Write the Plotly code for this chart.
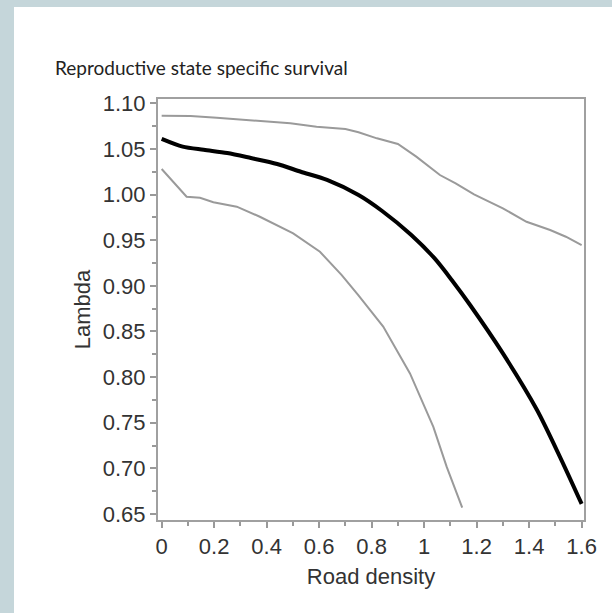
import plotly.graph_objects as go

# Data
road_density_mean = [0.0, 0.08, 0.16, 0.25, 0.34, 0.44, 0.53, 0.63, 0.75, 0.84, 0.95, 1.04, 1.11, 1.175, 1.3, 1.43, 1.52, 1.6]
lambda_mean = [1.061, 1.0525, 1.049, 1.0455, 1.040, 1.0335, 1.025, 1.016, 0.9995, 0.982, 0.956, 0.930, 0.9045, 0.879, 0.826, 0.764, 0.711, 0.661]

road_density_upper = [0.0, 0.11, 0.21, 0.34, 0.49, 0.59, 0.70, 0.75, 0.82, 0.90, 0.97, 1.06, 1.12, 1.19, 1.25, 1.30, 1.39, 1.48, 1.54, 1.6]
lambda_upper = [1.0864, 1.086, 1.0842, 1.0817, 1.078, 1.0744, 1.0718, 1.0682, 1.0616, 1.0554, 1.0415, 1.0214, 1.0123, 1.0002, 0.9915, 0.9849, 0.9702, 0.9611, 0.9538, 0.9447]

road_density_lower = [0.0, 0.095, 0.146, 0.197, 0.286, 0.374, 0.501, 0.603, 0.686, 0.749, 0.844, 0.946, 1.035, 1.086, 1.145]
lambda_lower = [1.028, 0.9976, 0.9965, 0.9915, 0.9867, 0.9757, 0.9575, 0.9373, 0.9118, 0.8899, 0.8553, 0.804, 0.7455, 0.7016, 0.657]

x_tick_vals = [0, 0.2, 0.4, 0.6, 0.8, 1, 1.2, 1.4, 1.6]
x_tick_text = ["0", "0.2", "0.4", "0.6", "0.8", "1", "1.2", "1.4", "1.6"]
y_tick_vals = [0.65, 0.70, 0.75, 0.80, 0.85, 0.90, 0.95, 1.00, 1.05, 1.10]
y_tick_text = ["0.65", "0.70", "0.75", "0.80", "0.85", "0.90", "0.95", "1.00", "1.05", "1.10"]
ref_lambda = 1.0
ref_density = 0.75

title_text = "Reproductive state specific survival"
x_title = "Road density"
y_title = "Lambda"

W, H = 612, 613
L, R, T, B = 158, 28, 99, 93
pw, ph = W - L - R, H - T - B

def px2paper_x(px):
    return (px - L) / pw

def py2paper_y(py):
    return (H - B - py) / ph

fig = go.Figure()

fig.add_trace(go.Scatter(x=road_density_upper, y=lambda_upper, mode="lines",
                         line=dict(color="#9a9a9a", width=2), showlegend=False))
fig.add_trace(go.Scatter(x=road_density_lower, y=lambda_lower, mode="lines",
                         line=dict(color="#9a9a9a", width=2), showlegend=False))
fig.add_trace(go.Scatter(x=road_density_mean, y=lambda_mean, mode="lines",
                         line=dict(color="#000000", width=4, shape="spline", smoothing=0.8),
                         showlegend=False))

fig.add_hline(y=ref_lambda, line=dict(color="#c0c0c0", width=1, dash="dash"), layer="below")
fig.add_vline(x=ref_density, line=dict(color="#c0c0c0", width=1, dash="dash"), layer="below")

# white panel over blue-grey frame
fig.add_shape(type="rect", xref="paper", yref="paper",
              x0=px2paper_x(14), x1=px2paper_x(620), y0=py2paper_y(620), y1=py2paper_y(7),
              fillcolor="white", line=dict(width=0), layer="below")

fig.add_annotation(text=title_text, xref="paper", yref="paper",
                   x=px2paper_x(53), y=py2paper_y(68), xanchor="left", yanchor="middle",
                   showarrow=False, font=dict(family="Lato", size=19, color="#222222"))

axis_font = dict(family="Liberation Sans, Arial", size=22, color="#333333")
title_font = dict(family="Liberation Sans, Arial", size=22, color="#333333")

fig.update_xaxes(range=[-0.014, 1.609], tickvals=x_tick_vals, ticktext=x_tick_text,
                 ticks="outside", ticklen=6, tickwidth=2, tickcolor="#999999",
                 showline=True, linecolor="#a0a0a0", linewidth=2, mirror=True,
                 showgrid=False, zeroline=False, tickfont=axis_font,
                 minor=dict(dtick=0.1, ticks="outside", ticklen=4, tickwidth=2, tickcolor="#999999"),
                 title=dict(text=x_title, font=title_font, standoff=10))
fig.update_yaxes(range=[0.6434, 1.1047], tickvals=y_tick_vals, ticktext=y_tick_text,
                 ticks="outside", ticklen=6, tickwidth=2, tickcolor="#999999",
                 showline=True, linecolor="#a0a0a0", linewidth=2, mirror=True,
                 showgrid=False, zeroline=False, tickfont=axis_font,
                 minor=dict(dtick=0.025, ticks="outside", ticklen=4, tickwidth=2, tickcolor="#999999"),
                 title=dict(text=y_title, font=title_font, standoff=6))

fig.update_layout(width=W, height=H, margin=dict(l=L, r=R, t=T, b=B, autoexpand=False),
                  paper_bgcolor="#c5d6da", plot_bgcolor="white")

fig.write_html("out.html", config={"displayModeBar": False},
               post_script="document.body.style.margin='0';document.body.style.overflow='hidden';")
